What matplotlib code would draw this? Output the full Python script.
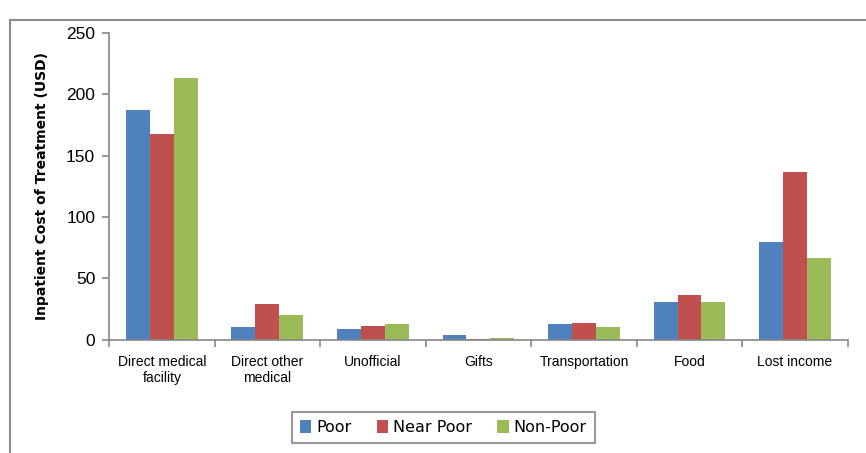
import matplotlib
matplotlib.use("Agg")
import matplotlib.pyplot as plt
import numpy as np
from matplotlib import font_manager

categories = ["Direct medical\nfacility", "Direct other\nmedical", "Unofficial", "Gifts",
              "Transportation", "Food", "Lost income"]
series_names = ["Poor", "Near Poor", "Non-Poor"]
poor = [187.5, 10, 8.5, 3.5, 13, 30.5, 80]
near_poor = [168, 29, 11, 0.8, 14, 36.5, 137]
non_poor = [213.5, 20.5, 12.5, 1.6, 10, 30.5, 67]
colors = ["#4F81BD", "#C0504D", "#9BBB59"]
yticks = [0, 50, 100, 150, 200, 250]

names = {f.name for f in font_manager.fontManager.ttflist}
tickfont = "Liberation Sans" if "Liberation Sans" in names else "DejaVu Sans"

fig = plt.figure(figsize=(8.66, 4.53), dpi=100)
ax = fig.add_axes([0.126, 0.25, 0.853, 0.677])

x = np.arange(len(categories))
w = 0.227
for i, (vals, name) in enumerate(zip([poor, near_poor, non_poor], series_names)):
    ax.bar(x + (i - 1) * w, vals, w, color=colors[i], label=name, zorder=2)

ax.set_xlim(-0.5, len(categories) - 0.5)
ax.set_ylim(0, 250)
ax.set_yticks(yticks)
ax.set_yticklabels([str(v) for v in yticks], fontfamily=tickfont, fontsize=12.5)
ax.set_xticks(x)
ax.set_xticklabels(categories, fontfamily=tickfont, fontsize=10)
ax.tick_params(axis="x", length=0, pad=11)
ax.set_xticks(np.arange(-0.5, len(categories) + 0.5, 1), minor=True)
ax.tick_params(axis="x", which="minor", length=5, color="#868686", width=1.2)
ax.tick_params(axis="y", length=5, color="#868686", width=1.2, pad=5)

for s in ["top", "right"]:
    ax.spines[s].set_visible(False)
for s in ["left", "bottom"]:
    ax.spines[s].set_color("#868686")
    ax.spines[s].set_linewidth(1.2)

ax.set_ylabel("Inpatient Cost of Treatment (USD)", fontweight="bold", fontsize=10,
              labelpad=12)

leg = fig.legend(loc="center", bbox_to_anchor=(0.512, 0.057), ncol=3, frameon=True,
                 fancybox=False, edgecolor="#808080", fontsize=11.5,
                 handlelength=0.7, handleheight=0.9, handletextpad=0.3, columnspacing=1.6,
                 borderpad=0.5)
leg.get_frame().set_linewidth(1.5)

# outer frame lines (top and left)
fig.add_artist(plt.Line2D([0.012, 1.0], [0.956, 0.956], transform=fig.transFigure,
                          color="#8c8c8c", lw=1.5))
fig.add_artist(plt.Line2D([0.012, 0.012], [0.0, 0.956], transform=fig.transFigure,
                          color="#8c8c8c", lw=1.5))

fig.savefig("out.png", dpi=100)
